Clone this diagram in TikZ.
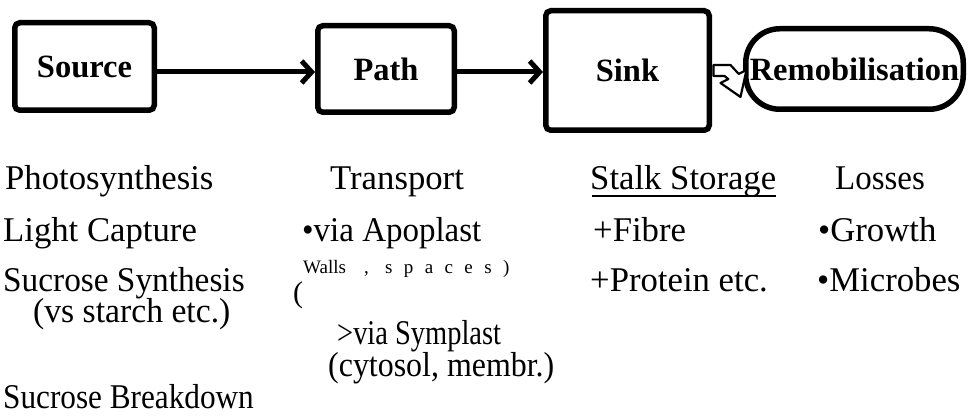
\documentclass[tikz,border=0pt]{standalone}
\usepackage{fontspec}
\setmainfont{Liberation Serif}
\usepackage{graphicx}
\usetikzlibrary{arrows.meta}
\begin{document}
\begin{tikzpicture}[x=1pt,y=-1pt,
  stage/.style={draw=black, line width=5.5pt, rounded corners=5pt, fill=white, inner sep=0pt,
    font=\bfseries\fontsize{32.5}{36}\selectfont},
  flow/.style={line width=5pt, -{Straight Barb[length=10pt,width=22pt]}},
  txt/.style={anchor=base west, inner sep=0pt, font=\fontsize{34.7}{40}\selectfont},
  smalltxt/.style={anchor=base west, inner sep=0pt, font=\fontsize{19}{22}\selectfont},
  hollow/.style={draw=black, line width=2.2pt, fill=white, line join=round},
]
\useasboundingbox[fill=white] (0,0) rectangle (968,419);

% stage boxes
\node[stage, minimum width=139.5pt, minimum height=87.5pt] (src) at (84.5,66.5) {Source};
\node[stage, minimum width=136.5pt, minimum height=86.5pt] (pth) at (386,69) {Path};
\node[stage, minimum width=163.5pt, minimum height=119.5pt] (snk) at (627.5,70.5) {Sink};
\node[stage, rounded corners=34pt, minimum width=217.5pt, minimum height=80.5pt] (rem) at (854.5,69) {Remobilisation};

% connectors
\draw[flow] (src.east |- 0,72) -- (pth.west |- 0,72);
\draw[flow] (pth.east |- 0,72) -- (snk.west |- 0,72);

% hollow bent arrow from Sink towards Remobilisation
\coordinate (ha) at ([xshift=1.5pt]snk.east |- 0,65);
\draw[hollow] (ha) -- ++(17,0) -- ++(8.2,8.9) -- ++(7.8,-3.9) -- ++(-6,27) -- ++(-20,-14)
  -- ++(7.8,-3.9) -- ++(-3.8,-3.1) -- ++(-11,0) -- cycle;

% column 1
\node[txt] (ph) at (5,190) {Photosynthesis};
\node[txt] (lc) at (3,242) {Light Capture};
\node[txt] (ss) at (3,291) {\scalebox{0.96}[1]{Sucrose Synthesis}};
\node[txt] (vs) at (33,323) {\scalebox{0.97}[1]{(vs starch etc.)}};
\node[txt] (sb) at (3,408) {\scalebox{0.9}[1]{Sucrose Breakdown}};

% column 2
\node[txt] (tr) at (330,190) {Transport};
\node[txt] (ap) at (302,242) {\scalebox{0.95}[1]{•via Apoplast}};
\node[txt, font=\fontsize{30}{34}\selectfont] (par) at (293,302) {(};
\node[smalltxt] (wl) at (303,274) {Walls};
\node[smalltxt] (spc) at (364,274) {\addfontfeature{LetterSpace=60}, spaces)};
\node[txt] (sy) at (337,344) {\scalebox{0.82}[1]{>via Symplast}};
\node[txt] (cy) at (328,376) {\scalebox{0.92}[1]{(cytosol, membr.)}};

% column 3
\node[txt] (st) at (590,190) {Stalk Storage};
\draw[line width=1.8pt] ([shift={(2,6)}]st.base west) -- ([shift={(0,6)}]st.base east);
\node[txt] (fb) at (593,242) {+Fibre};
\node[txt] (pr) at (590,291) {+Protein etc.};

% column 4
\node[txt] (ls) at (835,190) {\scalebox{0.95}[1]{Losses}};
\node[txt] (gr) at (818,242) {•Growth};
\node[txt] (mi) at (817,291) {•Microbes};
\end{tikzpicture}
\end{document}
